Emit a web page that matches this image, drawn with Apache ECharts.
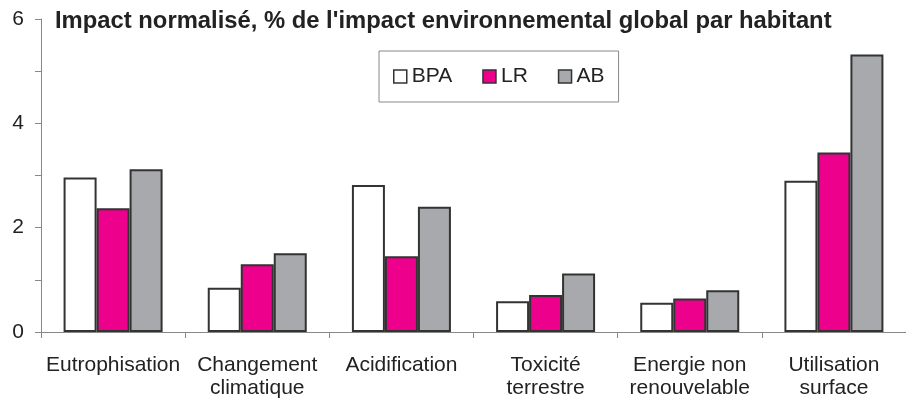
<!DOCTYPE html>
<html>
<head>
<meta charset="utf-8">
<script src="https://cdn.jsdelivr.net/npm/echarts@6/dist/echarts.min.js"></script>
<style>
  html, body { margin: 0; padding: 0; background: #fff; }
  #chart { width: 906px; height: 400px; }
</style>
</head>
<body>
<div id="chart"></div>
<script>
const categories = [
  'Eutrophisation',
  'Changement\nclimatique',
  'Acidification',
  'Toxicité\nterrestre',
  'Energie non\nrenouvelable',
  'Utilisation\nsurface'
]
const bpa = [2.96, 0.85, 2.82, 0.59, 0.56, 2.90]
const lr = [2.37, 1.30, 1.45, 0.71, 0.64, 3.44]
const ab = [3.12, 1.51, 2.40, 1.12, 0.80, 5.32]
const yTicks = [0, 2, 4, 6]

const font = "'Liberation Sans', Arial, sans-serif"
const border = { borderColor: '#333', borderWidth: 2 }

const myChart = echarts.init(document.getElementById('chart'), null, { renderer: 'canvas' })

const makeSeries = (name, data, color) => ({
  name,
  type: 'bar',
  data,
  barWidth: 33,
  barGap: '0%',
  itemStyle: { color, ...border }
})

const option = {
  animation: false,
  backgroundColor: '#fff',
  title: {
    text: "Impact normalisé, % de l'impact environnemental global par habitant",
    left: 50,
    top: 4,
    textStyle: { fontFamily: font, fontSize: 23.8, fontWeight: 'bold', color: '#222' }
  },
  legend: {
    left: 379,
    top: 51,
    orient: 'horizontal',
    padding: [15, 14, 15, 14],
    itemGap: 30,
    itemWidth: 13,
    itemHeight: 13,
    borderColor: '#888',
    borderWidth: 1,
    icon: 'rect',
    itemStyle: { borderColor: '#333', borderWidth: 1.5 },
    textStyle: { fontFamily: font, fontSize: 21, color: '#222' },
    data: ['BPA', 'LR', 'AB']
  },
  grid: {
    left: 41,
    top: 19,
    width: 872,
    height: 314,
    containLabel: false
  },
  xAxis: {
    type: 'category',
    data: categories,
    axisLine: { lineStyle: { color: '#888', width: 1 } },
    axisTick: { show: true, length: 6, lineStyle: { color: '#888' } },
    axisLabel: {
      fontFamily: font,
      fontSize: 21,
      color: '#222',
      margin: 22,
      lineHeight: 23,
      interval: 0
    }
  },
  yAxis: {
    type: 'value',
    min: 0,
    max: 6,
    interval: 1,
    splitLine: { show: false },
    axisLine: { show: true, lineStyle: { color: '#888', width: 1 } },
    axisTick: { show: true, length: 6, lineStyle: { color: '#888' } },
    axisLabel: {
      fontFamily: font,
      fontSize: 21,
      color: '#222',
      margin: 17,
      formatter: (v) => (yTicks.includes(v) ? String(v) : '')
    }
  },
  series: [
    makeSeries('BPA', bpa, '#ffffff'),
    makeSeries('LR', lr, '#ec008c'),
    makeSeries('AB', ab, '#a7a9ac')
  ]
}

myChart.setOption(option)
</script>
</body>
</html>
